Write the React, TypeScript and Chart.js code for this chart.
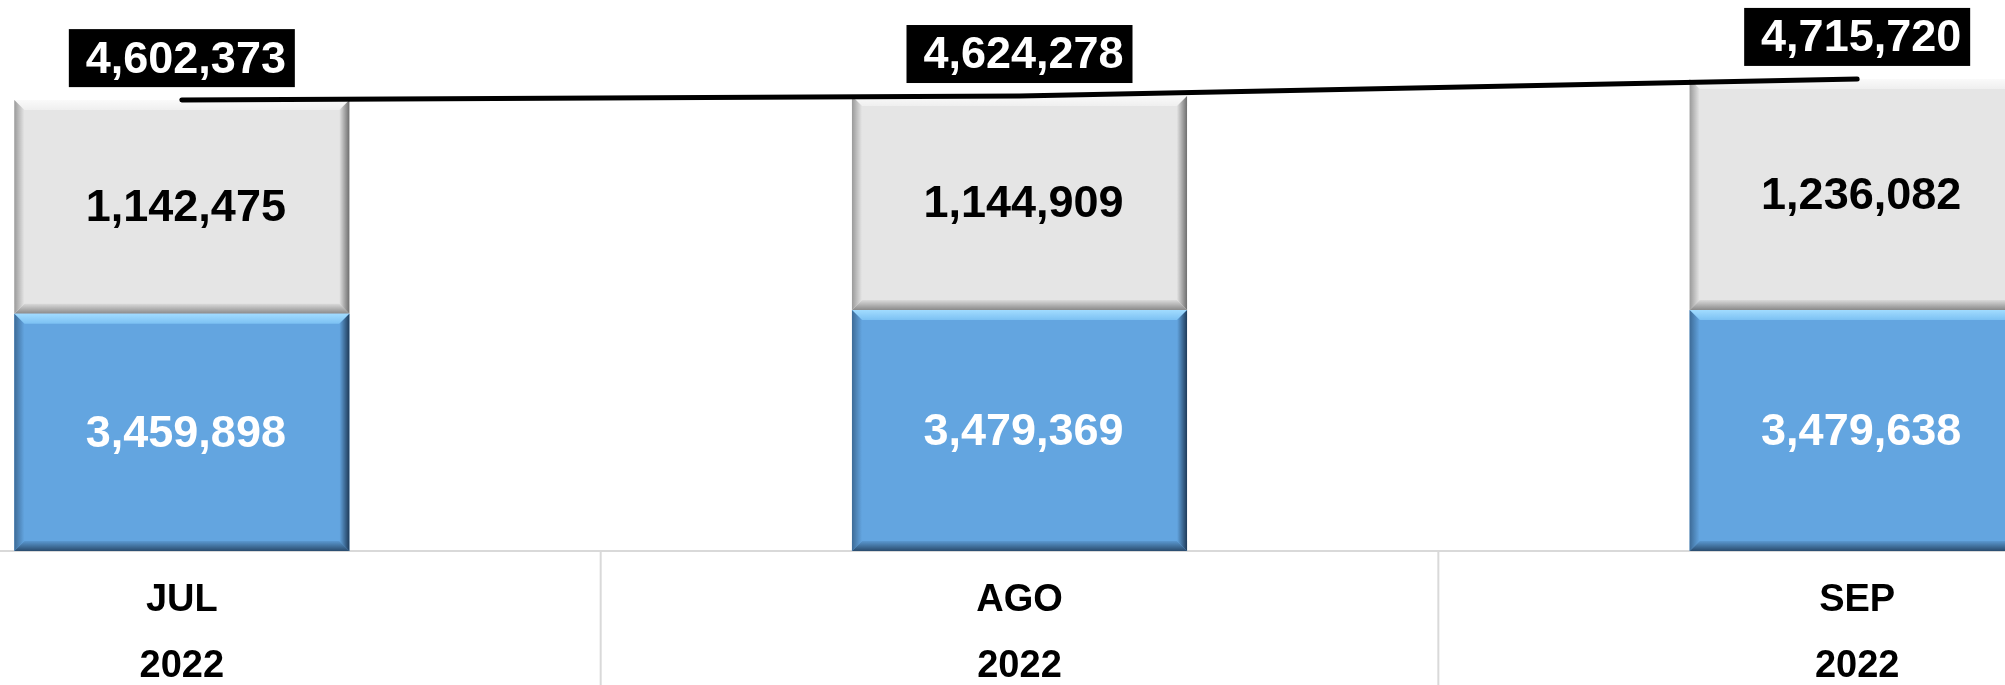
import React, { useEffect, useRef } from 'react';
import { Chart, registerables } from 'chart.js';

Chart.register(...registerables);

// ---- data ----
const months = ['JUL', 'AGO', 'SEP'];
const years = ['2022', '2022', '2022'];
const baseSeries = [3459898, 3479369, 3479638];
const upperSeries = [1142475, 1144909, 1236082];
const totalSeries = [4602373, 4624278, 4715720];
const yAxisMin = 2190000;
const yAxisMax = 5138000;

const FONT = '"Liberation Sans", Arial, Helvetica, sans-serif';
const fmt = (v: number) => v.toLocaleString('en-US');

type Bevel = {
  face: string;
  top: [string, string];
  bottom: [string, string];
  left: [string, string];
  right: [string, string];
};

const bevels: Record<number, Bevel> = {
  0: {
    face: '#63a5e0',
    top: ['#a2dcff', '#7cc1f3'],
    bottom: ['#5a98d0', '#2a4c6e'],
    left: ['#3d6b97', '#63a5e0'],
    right: ['#63a5e0', '#1f3b59'],
  },
  1: {
    face: '#e5e5e5',
    top: ['#fafafa', '#efefef'],
    bottom: ['#dadada', '#8a8a8a'],
    left: ['#9a9a9a', '#e5e5e5'],
    right: ['#e2e2e2', '#6e6e6e'],
  },
};

const barBox = (chart: any, el: any) => {
  const { x, y, base, width } = el.getProps(['x', 'y', 'base', 'width'], true);
  const area = chart.chartArea;
  const l = x - width / 2;
  const r = x + width / 2;
  const t = Math.max(Math.min(y, base), area.top);
  const b = Math.min(Math.max(y, base), area.bottom);
  return { x, l, r, t, b };
};

const bevelPlugin = {
  id: 'bevel',
  afterDatasetDraw(chart: any, args: any) {
    const meta = args.meta;
    if (meta.type !== 'bar') return;
    const st = bevels[args.index];
    if (!st) return;
    const ctx = chart.ctx as CanvasRenderingContext2D;
    const bw = 10;
    meta.data.forEach((el: any) => {
      const { l, r, t, b } = barBox(chart, el);
      const quad = (pts: number[][], fill: CanvasGradient) => {
        ctx.beginPath();
        ctx.moveTo(pts[0][0], pts[0][1]);
        for (let i = 1; i < pts.length; i++) ctx.lineTo(pts[i][0], pts[i][1]);
        ctx.closePath();
        ctx.fillStyle = fill;
        ctx.fill();
      };
      ctx.save();
      let g = ctx.createLinearGradient(0, t, 0, t + bw);
      g.addColorStop(0, st.top[0]);
      g.addColorStop(1, st.top[1]);
      quad([[l, t], [r, t], [r - bw, t + bw], [l + bw, t + bw]], g);
      g = ctx.createLinearGradient(0, b - bw, 0, b);
      g.addColorStop(0, st.bottom[0]);
      g.addColorStop(1, st.bottom[1]);
      quad([[l, b], [r, b], [r - bw, b - bw], [l + bw, b - bw]], g);
      g = ctx.createLinearGradient(l, 0, l + bw, 0);
      g.addColorStop(0, st.left[0]);
      g.addColorStop(1, st.left[1]);
      quad([[l, t], [l + bw, t + bw], [l + bw, b - bw], [l, b]], g);
      g = ctx.createLinearGradient(r - bw, 0, r, 0);
      g.addColorStop(0, st.right[0]);
      g.addColorStop(1, st.right[1]);
      quad([[r, t], [r - bw, t + bw], [r - bw, b - bw], [r, b]], g);
      ctx.restore();
    });
  },
};

const labelPlugin = {
  id: 'labels',
  afterDatasetsDraw(chart: any) {
    const ctx = chart.ctx as CanvasRenderingContext2D;
    ctx.save();
    ctx.font = `bold 45px ${FONT}`;
    ctx.textAlign = 'center';
    ctx.textBaseline = 'middle';
    chart.data.datasets.forEach((ds: any, di: number) => {
      const meta = chart.getDatasetMeta(di);
      meta.data.forEach((el: any, i: number) => {
        const v = ds.data[i] as number;
        if (meta.type === 'bar') {
          const { x, t, b } = barBox(chart, el);
          ctx.fillStyle = di === 0 ? '#ffffff' : '#000000';
          ctx.fillText(fmt(v), x + 4, (t + b) / 2 + 2);
        } else {
          const { x, y } = el.getProps(['x', 'y'], true);
          const w = 226;
          const h = 58;
          const bottom = y - 13;
          ctx.fillStyle = '#000000';
          ctx.fillRect(x - w / 2, bottom - h, w, h);
          ctx.fillStyle = '#ffffff';
          ctx.fillText(fmt(v), x + 4, bottom - h / 2 + 2);
        }
      });
    });
    ctx.restore();
  },
};

const separatorPlugin = {
  id: 'separators',
  afterDraw(chart: any) {
    const sx = chart.scales.x;
    const ctx = chart.ctx as CanvasRenderingContext2D;
    ctx.save();
    ctx.strokeStyle = '#d9d9d9';
    ctx.lineWidth = 2;
    for (let i = 0; i <= months.length; i++) {
      const px = sx.getPixelForValue(i - 0.5);
      ctx.beginPath();
      ctx.moveTo(px, sx.top);
      ctx.lineTo(px, chart.height);
      ctx.stroke();
    }
    ctx.restore();
  },
};

export default function App() {
  const ref = useRef<HTMLCanvasElement>(null);

  useEffect(() => {
    if (!ref.current) return;
    Chart.defaults.font.family = FONT;
    const chart = new Chart(ref.current, {
      type: 'bar',
      data: {
        labels: months.map((m, i) => [m, years[i]]),
        datasets: [
          {
            type: 'bar',
            label: 'base',
            data: baseSeries,
            backgroundColor: bevels[0].face,
            borderWidth: 0,
            barPercentage: 0.4,
            categoryPercentage: 1,
            order: 1,
          },
          {
            type: 'bar',
            label: 'upper',
            data: upperSeries,
            backgroundColor: bevels[1].face,
            borderWidth: 0,
            barPercentage: 0.4,
            categoryPercentage: 1,
            order: 1,
          },
          {
            type: 'line',
            label: 'total',
            data: totalSeries,
            borderColor: '#000000',
            borderWidth: 5,
            pointRadius: 0,
            tension: 0,
            borderCapStyle: 'round',
            stack: 'totalLine',
            order: 0,
          } as any,
        ],
      },
      options: {
        responsive: false,
        animation: false,
        layout: { padding: 0 },
        plugins: {
          legend: { display: false },
          tooltip: { enabled: false },
          title: { display: false },
        },
        scales: {
          x: {
            stacked: true,
            offset: true,
            grid: { display: false, drawTicks: false },
            border: { display: true, color: '#d9d9d9', width: 2 },
            ticks: {
              color: '#000000',
              font: { family: FONT, size: 38, weight: 'bold', lineHeight: 66 / 38 },
              padding: 17,
              maxRotation: 0,
              autoSkip: false,
            },
            afterFit: (scale: any) => {
              scale.height = 134;
            },
          },
          y: {
            stacked: true,
            display: false,
            min: yAxisMin,
            max: yAxisMax,
          },
        },
      },
      plugins: [bevelPlugin, labelPlugin, separatorPlugin],
    } as any);
    return () => chart.destroy();
  }, []);

  return (
    <div
      style={{
        position: 'fixed',
        left: 0,
        top: 0,
        width: 2005,
        height: 685,
        overflow: 'hidden',
        background: '#ffffff',
      }}
    >
      <canvas
        ref={ref}
        width={2513}
        height={685}
        style={{ position: 'absolute', left: -237, top: 0, width: 2513, height: 685 }}
      />
    </div>
  );
}
